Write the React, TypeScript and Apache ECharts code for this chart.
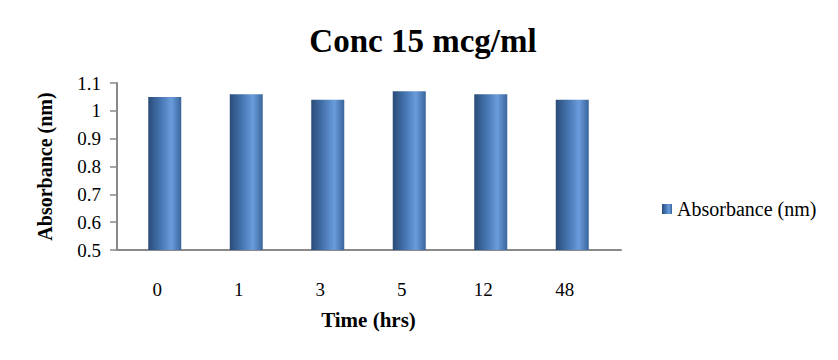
import React, { useEffect, useRef } from "react";
import * as echarts from "echarts";

const categories = ["0", "1", "3", "5", "12", "48"];
const absorbance = [1.05, 1.06, 1.04, 1.07, 1.06, 1.04];
const seriesName = "Absorbance (nm)";
const titleText = "Conc 15 mcg/ml";
const xTitle = "Time (hrs)";
const yTitle = "Absorbance (nm)";
const yMin = 0.5;
const yMax = 1.1;
const yStep = 0.1;

const FONT = "'Liberation Serif', 'Times New Roman', serif";

export default function App() {
  const ref = useRef<HTMLDivElement>(null);
  useEffect(() => {
    if (!ref.current) return;
    const chart = echarts.init(ref.current, undefined, { renderer: "svg" });
    const barColor = new echarts.graphic.LinearGradient(0, 0, 1, 0, [
      { offset: 0, color: "#2a4c78" },
      { offset: 0.35, color: "#4372ad" },
      { offset: 0.7, color: "#6a9cdc" },
      { offset: 1, color: "#3a659c" },
    ]);
    const axisGray = "#898989";
    chart.setOption({
      animation: false,
      title: {
        text: titleText,
        left: 410,
        top: 11,
        textAlign: "center",
        textStyle: { fontFamily: FONT, fontSize: 33, fontWeight: "bold", color: "#000" },
      },
      legend: {
        data: [{ name: seriesName, icon: "rect" }],
        left: 649,
        top: 186,
        itemWidth: 10,
        itemHeight: 10,
        textStyle: { fontFamily: FONT, fontSize: 20, color: "#000" },
      },
      grid: [
        { left: 109, right: 209, top: 75, bottom: 102, containLabel: false },
        { left: 116, right: 217, top: 75, bottom: 102, containLabel: false },
      ],
      xAxis: [
        {
          type: "category",
          gridIndex: 0,
          data: categories,
          axisLine: { lineStyle: { color: axisGray, width: 2 } },
          axisTick: { show: false },
          axisLabel: { show: false },
        },
        {
          type: "category",
          gridIndex: 1,
          data: categories,
          name: xTitle,
          nameLocation: "middle",
          nameGap: 59,
          nameTextStyle: { fontFamily: FONT, fontSize: 21, fontWeight: "bold", color: "#000" },
          axisLine: { show: false },
          axisTick: { show: false },
          axisLabel: {
            fontFamily: FONT,
            fontSize: 19,
            color: "#000",
            margin: 30,
            padding: [0, 15, 0, 0],
          },
        },
      ],
      yAxis: [
        {
          type: "value",
          gridIndex: 0,
          min: yMin,
          max: yMax,
          interval: yStep,
          name: yTitle,
          nameLocation: "middle",
          nameGap: 62,
          nameRotate: 90,
          nameTextStyle: { fontFamily: FONT, fontSize: 20, fontWeight: "bold", color: "#000" },
          axisLine: { show: true, lineStyle: { color: axisGray, width: 2 } },
          axisTick: { show: true, length: 7, lineStyle: { color: axisGray, width: 1.5 } },
          splitLine: { show: false },
          axisLabel: {
            fontFamily: FONT,
            fontSize: 19,
            color: "#000",
            margin: 16,
            formatter: (v: number) => String(Math.round(v * 10) / 10),
          },
        },
        {
          type: "value",
          gridIndex: 1,
          min: yMin,
          max: yMax,
          interval: yStep,
          show: false,
        },
      ],
      series: [
        {
          name: seriesName,
          type: "bar",
          xAxisIndex: 1,
          yAxisIndex: 1,
          data: absorbance,
          barWidth: 33,
          itemStyle: { color: barColor },
        },
      ],
    });
    return () => chart.dispose();
  }, []);
  return <div ref={ref} style={{ width: 822, height: 344 }} />;
}
